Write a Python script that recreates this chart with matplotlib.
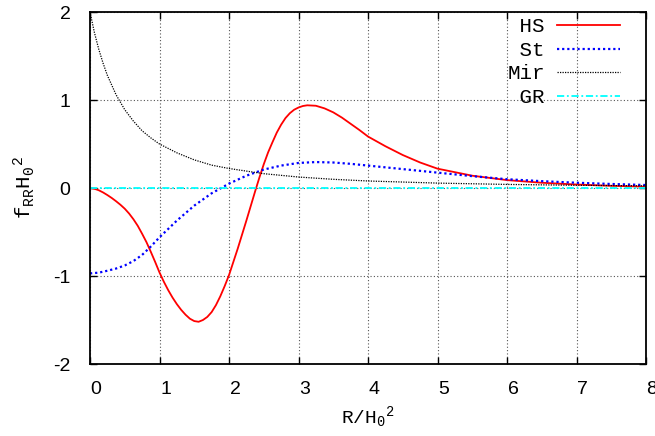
import matplotlib
matplotlib.use('Agg')
import matplotlib.pyplot as plt
from matplotlib.transforms import ScaledTranslation

plt.rcParams['mathtext.fontset'] = 'custom'
plt.rcParams['mathtext.rm'] = 'Liberation Mono'
plt.rcParams['mathtext.it'] = 'Liberation Mono'
plt.rcParams['axes.unicode_minus'] = False

# values
hs_x = [0, 0.0625, 0.125, 0.1875, 0.25, 0.3125, 0.375, 0.4375, 0.5, 0.5625,
        0.625, 0.6875, 0.75, 0.8125, 0.875, 0.9375,
        1.0, 1.0625, 1.125, 1.1875, 1.25, 1.3125, 1.375, 1.4375, 1.5, 1.5625,
        1.625, 1.6875, 1.75, 1.8125, 1.875, 1.9375, 2.0, 2.0625, 2.125, 2.1875,
        2.25, 2.3125, 2.375, 2.4375, 2.5, 2.5625, 2.625, 2.6875, 2.75, 2.8125,
        2.875, 2.9375, 3.0, 3.0625, 3.125, 3.25, 3.375, 3.5, 3.625, 3.75, 3.875,
        4.0, 4.25, 4.5, 4.75, 5.0, 5.5, 6.0, 6.5, 7.0, 7.5, 8.0]
hs_y = [0, -0.008, -0.025, -0.05, -0.08, -0.113, -0.15, -0.19, -0.235, -0.29,
        -0.355, -0.43, -0.52, -0.615, -0.725, -0.84,
        -0.96, -1.065, -1.16, -1.245, -1.32, -1.385, -1.44, -1.485, -1.512,
        -1.52, -1.50, -1.465, -1.41, -1.33, -1.23, -1.115, -0.99, -0.84, -0.69,
        -0.53, -0.37, -0.205, -0.04, 0.12, 0.27, 0.405, 0.52, 0.63, 0.72, 0.795,
        0.85, 0.89, 0.915, 0.932, 0.94, 0.935, 0.905, 0.86, 0.80, 0.73, 0.66,
        0.585, 0.475, 0.375, 0.29, 0.22, 0.14, 0.09, 0.06, 0.04, 0.025, 0.015]

st_x = [0, 0.125, 0.25, 0.375, 0.5, 0.625, 0.75, 0.875, 1.0, 1.25, 1.5, 1.75,
        2.0, 2.25, 2.5, 2.75, 3.0, 3.25, 3.5, 3.75, 4.0, 4.5, 5.0, 5.5, 6.0,
        6.5, 7.0, 7.5, 8.0]
st_y = [-0.97, -0.962, -0.94, -0.915, -0.88, -0.83, -0.76, -0.665, -0.56, -0.37,
        -0.20, -0.06, 0.05, 0.14, 0.21, 0.255, 0.285, 0.295, 0.29, 0.275, 0.255,
        0.215, 0.175, 0.135, 0.10, 0.078, 0.06, 0.046, 0.034]

mir_x = [0, 0.0625, 0.125, 0.1875, 0.25, 0.375, 0.5, 0.625, 0.75, 0.875, 1.0,
         1.25, 1.5, 1.75, 2.0, 2.5, 3.0, 3.5, 4.0, 5.0, 6.0, 7.0, 8.0]
mir_y = [2.0, 1.77, 1.58, 1.42, 1.28, 1.06, 0.89, 0.76, 0.65, 0.57, 0.50,
         0.40, 0.32, 0.26, 0.222, 0.163, 0.125, 0.099, 0.08, 0.056, 0.041,
         0.031, 0.025]

gr_x = [0, 8]
gr_y = [0, 0]

x_ticks = [0, 1, 2, 3, 4, 5, 6, 7, 8]
y_ticks = [-2, -1, 0, 1, 2]

fig = plt.figure(figsize=(6.55, 4.36), dpi=100)
ax = fig.add_axes([0.1374, 0.1651, 0.8489, 0.8073])

ax.plot(hs_x, hs_y, color='red', lw=1.3, label=' HS')
ax.plot(st_x, st_y, color='blue', lw=1.6, linestyle=(0, (1, 1.3)), label=' St')
ax.plot(mir_x, mir_y, color='black', lw=0.9, linestyle=(0, (1, 1)), label='Mir')
ax.plot(gr_x, gr_y, color='cyan', lw=1.3, linestyle=(0, (4, 1.5, 1, 1.5)), label=' GR')

ax.set_xlim(0, 8)
ax.set_ylim(-2, 2)
ax.set_xticks(x_ticks)
ax.set_yticks(y_ticks)
ax.set_xticklabels([str(v) for v in x_ticks], fontfamily='Liberation Sans', fontsize=14)
ax.set_yticklabels([str(v) for v in y_ticks], fontfamily='Liberation Sans', fontsize=14)
ax.tick_params(direction='in', length=5, width=1, top=True, right=True)
ax.tick_params(axis='x', pad=12)
ax.tick_params(axis='y', pad=14)
ax.grid(True, color='#555555', lw=0.8, linestyle=(0, (1, 2)))
for s in ax.spines.values():
    s.set_linewidth(1.3)

# gnuplot puts x tick labels a little right of the tick
shift = ScaledTranslation(0.06, 0, fig.dpi_scale_trans)
for lab in ax.get_xticklabels():
    lab.set_transform(lab.get_transform() + shift)

ax.set_xlabel(r'$\mathrm{R/H_0{}^2}$', fontsize=14, labelpad=5)
ax.set_ylabel(r'$\mathrm{f_{RR}H_0{}^2}$', fontsize=15, labelpad=12)

leg = ax.legend(loc='upper right', frameon=False, markerfirst=False,
                prop={'family': 'Liberation Mono', 'size': 15},
                handlelength=3.0, handletextpad=0.6, labelspacing=0.22,
                borderpad=0, borderaxespad=0,
                bbox_to_anchor=(0.953, 0.985))

plt.savefig('out.png', dpi=100)
plt.close()
